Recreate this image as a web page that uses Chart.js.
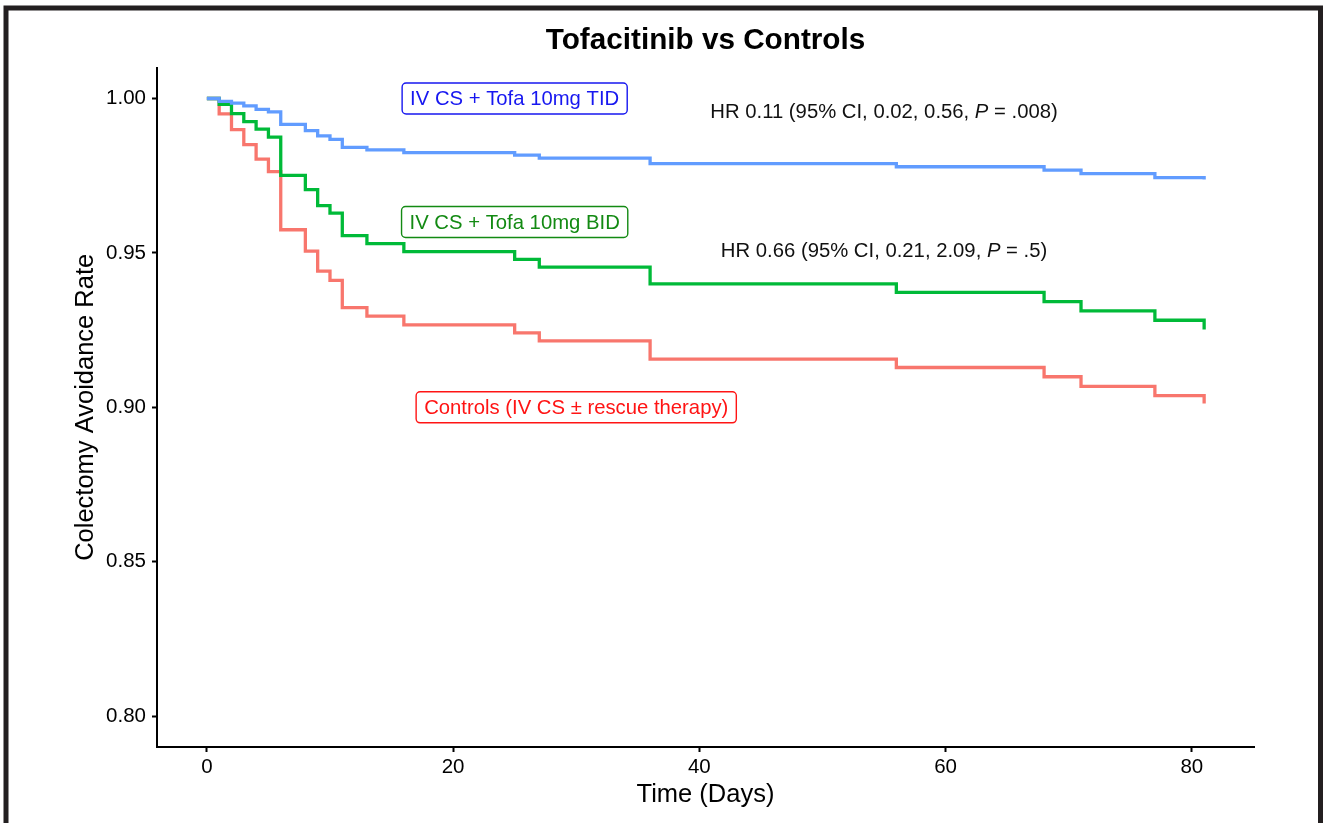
<!DOCTYPE html>
<html>
<head>
<meta charset="utf-8">
<title>Tofacitinib vs Controls</title>
<script src="https://cdn.jsdelivr.net/npm/chart.js@4/dist/chart.umd.min.js"></script>
<style>
    html, body { margin: 0; padding: 0; background: #ffffff; }
    canvas { display: block; }
</style>
</head>
<body>
<canvas id="km" width="1327" height="823"></canvas>
<script>

// Kaplan-Meier steps (days, survival)
const tofaTidDays = [0, 1, 2, 3, 4, 5, 6, 8, 9, 10, 11, 13, 16, 25, 27, 36, 56, 68, 71, 77, 81];
const tofaTidRate = [1.0, 0.9991, 0.9985, 0.9976, 0.9965, 0.9957, 0.9916, 0.9896, 0.9879, 0.9868, 0.9842, 0.9834, 0.9825, 0.9817, 0.9807, 0.9789, 0.9779, 0.9768, 0.9757, 0.9744, 0.9738];

const tofaBidDays = [0, 1, 2, 3, 4, 5, 6, 8, 9, 10, 11, 13, 16, 25, 27, 36, 56, 68, 71, 77, 81];
const tofaBidRate = [1.0, 0.9981, 0.9951, 0.9925, 0.9901, 0.9875, 0.9751, 0.9705, 0.9653, 0.9629, 0.9556, 0.9530, 0.9504, 0.9479, 0.9454, 0.9400, 0.9372, 0.9342, 0.9312, 0.9282, 0.9252];

const controlDays = [0, 1, 2, 3, 4, 5, 6, 8, 9, 10, 11, 13, 16, 25, 27, 36, 56, 68, 71, 77, 81];
const controlRate = [1.0, 0.9950, 0.9899, 0.9851, 0.9804, 0.9763, 0.9575, 0.9506, 0.9441, 0.9411, 0.9323, 0.9295, 0.9267, 0.9241, 0.9215, 0.9156, 0.9129, 0.9099, 0.9068, 0.9038, 0.9012];

const xTicks = [0, 20, 40, 60, 80];
const yTicks = [0.80, 0.85, 0.90, 0.95, 1.00];

// boxed group labels
const boxLabels = ["IV CS + Tofa 10mg TID", "IV CS + Tofa 10mg BID", "Controls (IV CS \u00b1 rescue therapy)"];
const boxDays = [25, 25, 30];
const boxRates = [1.00, 0.96, 0.90];
const boxColors = ["#1717f0", "#138a13", "#ff1414"];

// hazard ratio notes: [before, italic, after]
const hrTexts = [
    ["HR 0.11 (95% CI, 0.02, 0.56, ", "P", " = .008)"],
    ["HR 0.66 (95% CI, 0.21, 2.09, ", "P", " = .5)"]
];
const hrDays = [55, 55];
const hrRates = [0.9955, 0.9505];

const FONT = "'Liberation Sans', Arial, Helvetica, sans-serif";

function toPoints(days, rates) {
    return days.map((d, i) => ({ x: d, y: rates[i] }));
}

const frame = {
    id: "frame",
    afterDraw(chart) {
        const ctx = chart.ctx;
        ctx.save();
        ctx.strokeStyle = "#231f20";
        ctx.lineWidth = 5;
        ctx.strokeRect(6, 8, 1314.5, 900);
        ctx.restore();
    }
};

const notes = {
    id: "notes",
    afterDatasetsDraw(chart) {
        const ctx = chart.ctx;
        const xs = chart.scales.x;
        const ys = chart.scales.y;

        ctx.save();
        ctx.textBaseline = "middle";

        // boxed labels
        ctx.font = "20.3px " + FONT;
        boxLabels.forEach((text, i) => {
            const cx = xs.getPixelForValue(boxDays[i]);
            const cy = ys.getPixelForValue(boxRates[i]);
            const w = ctx.measureText(text).width + 16;
            const h = 31;
            ctx.beginPath();
            ctx.roundRect(cx - w / 2, cy - h / 2, w, h, 4);
            ctx.fillStyle = "#ffffff";
            ctx.fill();
            ctx.lineWidth = 1.4;
            ctx.strokeStyle = boxColors[i];
            ctx.stroke();
            ctx.fillStyle = boxColors[i];
            ctx.textAlign = "center";
            ctx.fillText(text, cx, cy + 1);
        });

        // HR notes with italic P
        ctx.fillStyle = "#111111";
        ctx.textAlign = "left";
        hrTexts.forEach((parts, i) => {
            const normal = "20.3px " + FONT;
            const italic = "italic 20.3px " + FONT;
            ctx.font = normal;
            const w0 = ctx.measureText(parts[0]).width;
            const w2 = ctx.measureText(parts[2]).width;
            ctx.font = italic;
            const w1 = ctx.measureText(parts[1]).width;
            const total = w0 + w1 + w2;
            let x = xs.getPixelForValue(hrDays[i]) - total / 2;
            const y = ys.getPixelForValue(hrRates[i]);
            ctx.font = normal;
            ctx.fillText(parts[0], x, y);
            x += w0;
            ctx.font = italic;
            ctx.fillText(parts[1], x, y);
            x += w1;
            ctx.font = normal;
            ctx.fillText(parts[2], x, y);
        });

        ctx.restore();
    }
};

const lineStyle = {
    stepped: "before",
    borderWidth: 3.3,
    pointRadius: 0,
    tension: 0,
    fill: false
};

new Chart(document.getElementById("km"), {

    type: "line",

    data: {

        datasets: [

            { label: "IV CS + Tofa 10mg TID", data: toPoints(tofaTidDays, tofaTidRate), borderColor: "#619CFF", ...lineStyle },

            { label: "IV CS + Tofa 10mg BID", data: toPoints(tofaBidDays, tofaBidRate), borderColor: "#00BA38", ...lineStyle },

            { label: "Controls", data: toPoints(controlDays, controlRate), borderColor: "#F8766D", ...lineStyle }

        ]

    },

    options: {

        responsive: false,

        animation: false,

        devicePixelRatio: 1,

        layout: {
            padding: { top: 0, left: 0, right: 73, bottom: 0 }
        },

        plugins: {

            legend: { display: false },

            tooltip: { enabled: false },

            title: {
                display: true,
                fullSize: false,
                text: "Tofacitinib vs Controls",
                color: "#000000",
                font: { family: FONT, size: 29.7, weight: "bold", lineHeight: 1.2 },
                padding: { top: 23, bottom: 9 }
            }

        },

        scales: {

            x: {
                type: "linear",
                min: -4.05,
                max: 85.05,
                afterFit: scale => { scale.height = 76; },
                afterBuildTicks: scale => { scale.ticks = xTicks.map(v => ({ value: v })); },
                grid: { drawOnChartArea: false, drawTicks: true, tickLength: 5, tickWidth: 2, tickColor: "#000000" },
                border: { display: true, color: "#000000", width: 2 },
                ticks: {
                    color: "#000000",
                    padding: 3,
                    maxRotation: 0,
                    font: { family: FONT, size: 20.5 }
                },
                title: {
                    display: true,
                    text: "Time (Days)",
                    color: "#000000",
                    font: { family: FONT, size: 25.5, lineHeight: 1.2 },
                    padding: { top: 0, bottom: 13 }
                }
            },

            y: {
                type: "linear",
                min: 0.79,
                max: 1.01,
                afterFit: scale => { scale.width = 157; },
                afterBuildTicks: scale => { scale.ticks = yTicks.map(v => ({ value: v })); },
                grid: { drawOnChartArea: false, drawTicks: true, tickLength: 5, tickWidth: 2, tickColor: "#000000" },
                border: { display: true, color: "#000000", width: 2 },
                ticks: {
                    color: "#000000",
                    padding: 6,
                    font: { family: FONT, size: 20.5 },
                    callback: v => Number(v).toFixed(2)
                },
                title: {
                    display: true,
                    text: "Colectomy Avoidance Rate",
                    color: "#000000",
                    font: { family: FONT, size: 25.5, lineHeight: 1.2 },
                    padding: { top: 71, bottom: 0 }
                }
            }

        }

    },

    plugins: [notes, frame]

});

</script>
</body>
</html>
